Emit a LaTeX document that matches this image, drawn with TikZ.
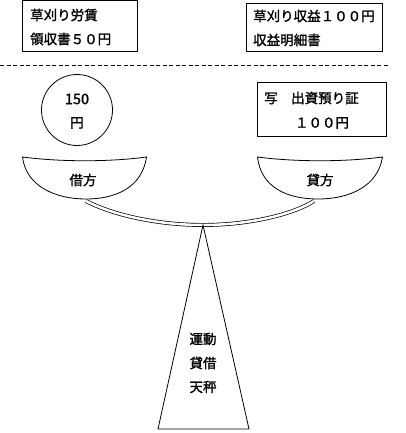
\documentclass[tikz,border=0pt]{standalone}
\usepackage{fontspec}
\newfontfamily\jp{Noto Sans CJK JP}[FakeBold=1.5]
\begin{document}
\begin{tikzpicture}[x=1pt,y=-1pt,
  txt/.style={font=\jp\fontsize{13.5}{15}\selectfont, inner sep=0pt},
  frame/.style={draw, line width=0.8pt},
  line/.style={line width=0.8pt}]
\useasboundingbox (0,0) rectangle (406,433);
% top boxes
\draw[frame] (22.5,0.5) rectangle (137.5,51.5);
\node[txt, anchor=west] (t1a) at (30,15) {草刈り労賃};
\node[txt, anchor=west] (t1b) at (30,39) {領収書５０円};
\draw[frame] (246,3.5) rectangle (382.5,51.5);
\node[txt, anchor=west] (t2a) at (253,16) {草刈り収益１００円};
\node[txt, anchor=west] (t2b) at (253,40) {収益明細書};
% dashed separator
\coordinate (dl) at (0,65.5);
\coordinate (dr) at (388,65.5);
\draw[line, dash pattern=on 4pt off 2.5pt] (dl) -- (dr);
% circle
\node[draw, line width=0.8pt, circle, minimum size=71pt, inner sep=0pt] (coin) at (77,110) {};
\node[txt, font=\jp\fontsize{14.5}{16}\selectfont] (c1) at (77,99) {150};
\node[txt] (c2) at (77,123) {円};
% right box
\draw[frame] (257.5,82.5) rectangle (386.5,136);
\node[txt, anchor=west] (r1) at (264,98) {写　出資預り証};
\node[txt] (r2) at (322,123) {１００円};
% bowls
\draw[line] (22.5,157) .. controls (60,162) and (110,162) .. (146.5,157)
  .. controls (142,188) and (115,199) .. (86,199)
  .. controls (55,199) and (26,186) .. (22.5,157) -- cycle;
\coordinate (lb) at (86,201);
\node[txt] (debit) at (83,180) {借方};
\draw[line] (257.5,157) .. controls (295,162) and (345,162) .. (382.5,157)
  .. controls (378,186) and (350,199) .. (318,199)
  .. controls (288,199) and (261,188) .. (257.5,157) -- cycle;
\coordinate (rb) at (314,201);
\node[txt] (credit) at (320,180) {貸方};
% beam
\coordinate (pivot) at (203,225);
\draw[line width=0.7pt, double, double distance=2.5pt] (lb) .. controls (115,216) and (160,225) .. (pivot)
  .. controls (245,225) and (290,216) .. (rb);
% stand
\coordinate (bl) at (158,429);
\coordinate (br) at (249,429);
\draw[line] (pivot) -- (bl) -- (br) -- cycle;
\node[txt] (s1) at (203,339) {運動};
\node[txt] (s2) at (203,363) {貸借};
\node[txt] (s3) at (203,387) {天秤};
\end{tikzpicture}
\end{document}
